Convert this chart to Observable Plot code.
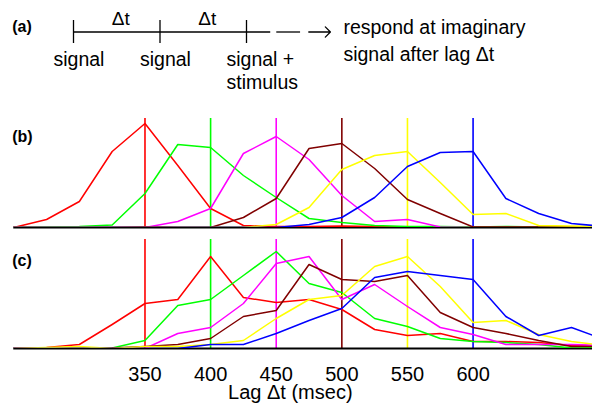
<!DOCTYPE html>
<html>
<head>
<meta charset="utf-8">
<script src="https://cdn.jsdelivr.net/npm/d3@7"></script>
<script src="https://cdn.jsdelivr.net/npm/@observablehq/plot@0.6"></script>
<style>
  body { margin: 0; background: #fff; }
  #chart { position: relative; width: 592px; height: 407px; overflow: hidden; background: #fff; }
  #chart svg { position: absolute; left: 0; }
</style>
</head>
<body>
<div id="chart"></div>
<script>
// ---------- Panel (a): diagram (positions in units of the lag Δt) ----------
const signalTimes = [0, 1, 2];
const signalLabels = ["signal", "signal", "signal +\nstimulus"];
const intervalMids = [0.5, 1.5];
const intervalLabels = ["Δt", "Δt"];
const timelineEnd = 2.28;
const dashSegments = [[2.35, 2.625]];
const arrowSegment = [2.72, 2.97];
const responseText = "respond at imaginary\nsignal after lag Δt";

// ---------- Panels (b), (c): response curves ----------
const lags = [250, 275, 300, 325, 350, 375, 400, 425, 450, 475, 500, 525, 550, 575, 600, 625, 650, 675, 700];
const targets = [350, 400, 450, 500, 550, 600];
const colors = ["#ff0000", "#00ff00", "#ff00ff", "#800000", "#ffff00", "#0000ff"];
const tickLabels = [350, 400, 450, 500, 550, 600];

// panel (b)
const b350 = [0, 8, 26, 76, 104, 62, 19, 2, 1, 1, 1.5, 1, 0.5, 0, 0, 0, 0, 0, 0];
const b400 = [0, 0.5, 1, 2.5, 34, 83, 80, 52, 30, 9, 5, 2, 1, 1, 0.5, 1, 0.5, 0, 0];
const b450 = [0, 0, 0, 0, 0, 6, 19, 74, 91, 68, 32, 6, 8, 0.5, 0, 0, 0, 0, 0];
const b500 = [0, 0, 0, 0, 0.5, 0, 0, 10, 29, 79, 84, 59, 28, 14, 0.5, 0.5, 0.5, 0.5, 0.5];
const b550 = [0, 0, 0, 0, 0, 0, 0, 0, 3, 20, 58, 72, 76, 45, 13, 14, 2, 1.5, 1];
const b600 = [0, 0, 0, 0, 0, 0, 0, 0, 0, 3, 10, 30, 61, 75, 76, 29, 14, 4, 1];

// panel (c)
const c350 = [0, 1, 4, 24, 45, 49, 92, 51, 46, 49, 39, 19, 13, 15, 7, 7, 6, 3, 2];
const c400 = [0, 0, 0, 0.5, 8, 43, 49, 73, 97, 65, 56, 30, 22, 10, 7, 6, 4, 0.5, 1];
const c450 = [0, 0, 0, 0, 0, 15, 21, 45, 85, 92, 49, 64, 42, 21, 14, 4, 4, 4, 3];
const c500 = [0, 0, 0, 0.5, 2, 4, 10, 32, 38, 84, 69, 67, 73, 36, 21, 15, 8, 2, 2];
const c550 = [0, 1, 2, 0, 2, 2, 4, 8, 30, 49, 53, 82, 92, 62, 26, 28, 14, 7, 3];
const c600 = [0, 0, 0, 0, 0, 0, 4, 4, 15, 28, 40, 71, 77, 73, 69, 32, 13, 21, 9];

const seriesB = [b350, b400, b450, b500, b550, b600];
const seriesC = [c350, c400, c450, c500, c550, c600];

function toTable(series) {
  const rows = [];
  series.forEach((vals, i) => vals.forEach((v, j) => rows.push({lag: lags[j], value: v, target: targets[i]})));
  return rows;
}
const tableB = toTable(seriesB);
const tableC = toTable(seriesC);

const FONT = "'Liberation Sans', Arial, Helvetica, sans-serif";
const chart = document.getElementById("chart");
const yMax = 109;
const xScale = {domain: [250, 691], range: [13.25, 592], axis: null};
const colorScale = {type: "ordinal", domain: targets, range: colors};

function place(svg, top) { svg.style.top = top + "px"; chart.appendChild(svg); }

// Panel (a)
const plotA = Plot.plot({
  width: 592, height: 100,
  marginTop: 0, marginBottom: 0, marginLeft: 0, marginRight: 0,
  x: {domain: [0, 2], range: [73, 246], axis: null},
  y: {domain: [-1, 1], range: [43, 20], axis: null},
  style: {fontFamily: FONT, background: "transparent", color: "black"},
  marks: [
    Plot.ruleY([0], {x1: 0, x2: timelineEnd, stroke: "black", strokeWidth: 1.3}),
    Plot.ruleX(signalTimes, {x: d => d, y1: -1, y2: 1, stroke: "black", strokeWidth: 1.3}),
    Plot.ruleY(dashSegments, {y: () => 0, x1: d => d[0], x2: d => d[1], stroke: "black", strokeWidth: 1.3}),
    Plot.arrow([arrowSegment], {x1: d => d[0], x2: d => d[1], y1: () => 0, y2: () => 0,
      stroke: "black", strokeWidth: 1.3, headAngle: 90, headLength: 11}),
    Plot.text(intervalLabels, {x: (d, i) => intervalMids[i], y: () => 0, text: d => d,
      lineAnchor: "top", dy: -20.3, dx: 4, fontSize: 19}),
    Plot.text(signalLabels, {x: (d, i) => signalTimes[i], y: () => 0, text: d => d,
      textAnchor: "start", lineAnchor: "top", dx: -20, dy: 18, fontSize: 19.5, lineHeight: 1.16}),
    Plot.text([responseText], {x: () => arrowSegment[1], y: () => 0, text: d => d,
      textAnchor: "start", lineAnchor: "top", dx: 13, dy: -17, fontSize: 19.5, lineHeight: 1.38}),
    Plot.text(["(a)"], {frameAnchor: "top-left", textAnchor: "start", lineAnchor: "top",
      dx: 11.7, dy: 20.6, fontSize: 16, fontWeight: "bold"})
  ]
});
place(plotA, 0);

function panel(table, label, opts) {
  const marks = [
    Plot.ruleX(targets, {x: d => d, y1: 0, y2: yMax, stroke: d => d, strokeWidth: 1.6}),
    Plot.ruleY([0], {x1: 250, x2: 691, stroke: "black", strokeWidth: 2}),
    Plot.line(table, {x: "lag", y: "value", z: "target", stroke: "target", strokeWidth: 1.5, clip: true}),
    Plot.text([label], {frameAnchor: "top-left", textAnchor: "start", lineAnchor: "top",
      dx: 11.7, dy: opts.labelDy, fontSize: 16, fontWeight: "bold"})
  ];
  if (opts.axis) {
    marks.push(Plot.axisX({ticks: tickLabels, tickSize: 0, tickPadding: 17.8, fontSize: 20, label: null}));
    marks.push(Plot.text(["Lag Δt (msec)"], {frameAnchor: "bottom", lineAnchor: "top",
      dx: -6.2, dy: 35.8, fontSize: 20}));
  }
  return Plot.plot({
    width: 592, height: opts.height,
    marginTop: opts.marginTop, marginBottom: opts.marginBottom, marginLeft: 0, marginRight: 0,
    x: {...xScale, label: null},
    y: {domain: [0, yMax], axis: null},
    color: colorScale,
    style: {fontFamily: FONT, background: "transparent", color: "black"},
    marks
  });
}

place(panel(tableB, "(b)", {height: 130, marginTop: 18, marginBottom: 3, labelDy: 12.3}), 100);
place(panel(tableC, "(c)", {height: 177, marginTop: 9, marginBottom: 59, labelDy: 15.1, axis: true}), 230);
</script>
</body>
</html>
